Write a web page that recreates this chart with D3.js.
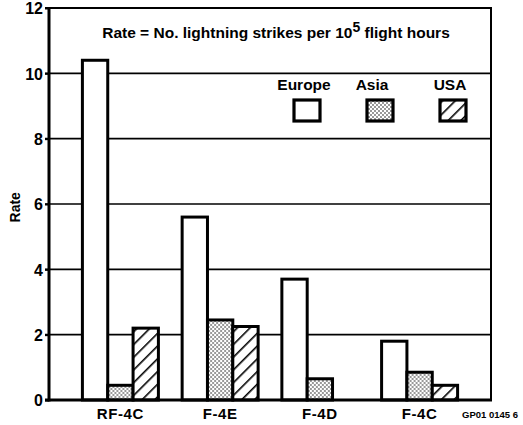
<!DOCTYPE html>
<html>
<head>
<meta charset="utf-8">
<script src="https://cdn.jsdelivr.net/npm/d3@7"></script>
<style>
  html, body { margin: 0; padding: 0; background: #fff; }
  svg { display: block; }
  text { font-family: "Liberation Sans", Arial, Helvetica, sans-serif; font-weight: bold; fill: #000; }
</style>
</head>
<body>
<svg id="chart" width="523" height="425"></svg>
<script>
// ---- data ----
const categories = ["RF-4C", "F-4E", "F-4D", "F-4C"];
const seriesNames = ["Europe", "Asia", "USA"];
const europe = [10.4, 5.6, 3.7, 1.8];
const asia = [0.45, 2.45, 0.65, 0.85];
const usa = [2.2, 2.25, 0, 0.45];
const yTicks = [0, 2, 4, 6, 8, 10, 12];
const titleText = "Rate = No. lightning strikes per 10";
const titleSup = "5";
const titleEnd = " flight hours";
const yLabel = "Rate";
const footnote = "GP01 0145 6";

const values = [europe, asia, usa];

const svg = d3.select("#chart");
const mLeft = 49, mRight = 491, mTop = 8, mBottom = 400;

const defs = svg.append("defs");
// stipple (Asia)
const dots = defs.append("pattern").attr("id", "dots").attr("patternUnits", "userSpaceOnUse")
  .attr("width", 4).attr("height", 4);
dots.append("rect").attr("width", 4).attr("height", 4).attr("fill", "#fff");
dots.append("circle").attr("cx", 1).attr("cy", 1).attr("r", 0.75).attr("fill", "#000");
dots.append("circle").attr("cx", 3).attr("cy", 3).attr("r", 0.75).attr("fill", "#000");
// hatch (USA)
const hatch = defs.append("pattern").attr("id", "hatch").attr("patternUnits", "userSpaceOnUse")
  .attr("width", 9).attr("height", 9).attr("patternTransform", "rotate(45)");
hatch.append("rect").attr("width", 9).attr("height", 9).attr("fill", "#fff");
hatch.append("line").attr("x1", 0).attr("y1", 0).attr("x2", 0).attr("y2", 9)
  .attr("stroke", "#000").attr("stroke-width", 3.2);

const fills = { "Europe": "#fff", "Asia": "url(#dots)", "USA": "url(#hatch)" };

const y = d3.scaleLinear().domain([0, 12]).range([mBottom, mTop]);
const x0 = d3.scaleBand().domain(categories).range([mLeft, mRight])
  .paddingInner(0.238).paddingOuter(0.335);
const x1 = d3.scaleBand().domain(seriesNames).range([0, x0.bandwidth()]).padding(0);

// gridlines
svg.append("g").selectAll("line").data(yTicks.filter(t => t > 0 && t < 12)).join("line")
  .attr("x1", mLeft - 4).attr("x2", mRight).attr("y1", d => y(d)).attr("y2", d => y(d))
  .attr("stroke", "#000").attr("stroke-width", 1.6);

// frame: top and right
svg.append("line").attr("x1", mLeft - 4).attr("x2", mRight + 1).attr("y1", y(12)).attr("y2", y(12))
  .attr("stroke", "#000").attr("stroke-width", 2.2);
svg.append("line").attr("x1", mRight).attr("x2", mRight).attr("y1", y(12)).attr("y2", y(0))
  .attr("stroke", "#000").attr("stroke-width", 2);

// y-axis
const yAxis = d3.axisLeft(y).tickValues(yTicks).tickSize(4).tickPadding(2);
const gy = svg.append("g").attr("transform", `translate(${mLeft},0)`).call(yAxis);
gy.select(".domain").remove();
gy.selectAll(".tick line").attr("stroke", "#000").attr("stroke-width", 2);
gy.selectAll(".tick text").style("font-size", "16px").attr("dy", "0.36em");

// bars
const groups = svg.append("g").selectAll("g").data(categories).join("g")
  .attr("transform", d => `translate(${x0(d)},0)`);
groups.selectAll("rect")
  .data((c, i) => seriesNames.map((s, j) => ({ s, v: values[j][i] })).filter(d => d.v > 0))
  .join("rect")
  .attr("x", d => x1(d.s))
  .attr("width", x1.bandwidth())
  .attr("y", d => y(d.v))
  .attr("height", d => y(0) - y(d.v))
  .attr("fill", d => fills[d.s])
  .attr("stroke", "#000").attr("stroke-width", 3).attr("stroke-linejoin", "miter");

// axis lines (left + baseline)
svg.append("line").attr("x1", mLeft).attr("x2", mLeft).attr("y1", y(12) - 1).attr("y2", y(0) + 1.5)
  .attr("stroke", "#000").attr("stroke-width", 3);
svg.append("line").attr("x1", mLeft - 4).attr("x2", mRight + 1).attr("y1", y(0)).attr("y2", y(0))
  .attr("stroke", "#000").attr("stroke-width", 3);

// x-axis labels
const xAxis = d3.axisBottom(x0).tickSize(0).tickPadding(8);
const gx = svg.append("g").attr("transform", `translate(0,${mBottom})`).call(xAxis);
gx.select(".domain").remove();
gx.selectAll(".tick text").style("font-size", "15px").style("letter-spacing", "0.6px");

// title
const t = svg.append("text").attr("x", 276).attr("y", 38).attr("text-anchor", "middle")
  .style("font-size", "15.5px");
t.append("tspan").text(titleText);
t.append("tspan").text(titleSup).attr("dy", -6).style("font-size", "14px");
t.append("tspan").text(titleEnd).attr("dy", 6);

// legend
const legX = d3.scalePoint().domain(seriesNames).range([307, 453]);
const leg = svg.append("g").selectAll("g").data(seriesNames).join("g")
  .attr("transform", d => `translate(${legX(d)},0)`);
leg.append("text").attr("y", 90).attr("text-anchor", "middle").style("font-size", "15.5px")
  .attr("dx", (d, i) => [-3, -8, -3][i])
  .text(d => d);
leg.append("rect").attr("x", -13).attr("y", 100).attr("width", 26).attr("height", 21)
  .attr("fill", d => fills[d]).attr("stroke", "#000").attr("stroke-width", 3.2);

// y label
svg.append("text").attr("transform", `translate(20,${(y(5.9))}) rotate(-90)`)
  .attr("text-anchor", "middle").style("font-size", "14px").text(yLabel);

// footnote
svg.append("text").attr("x", 462).attr("y", 418).style("font-size", "9.5px").text(footnote);
</script>
</body>
</html>
